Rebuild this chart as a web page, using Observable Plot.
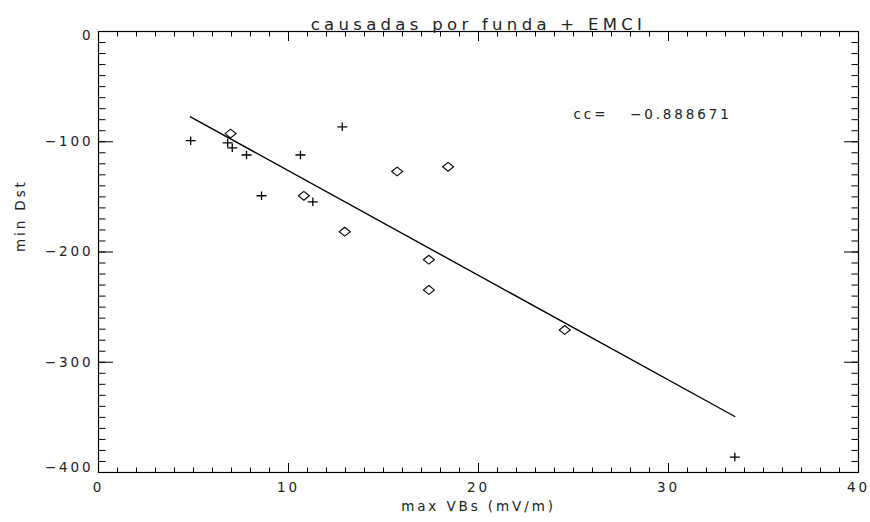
<!DOCTYPE html>
<html>
<head>
<meta charset="utf-8">
<script src="https://cdn.jsdelivr.net/npm/d3@7"></script>
<script src="https://cdn.jsdelivr.net/npm/@observablehq/plot@0.6"></script>
<style>
  html, body { margin: 0; padding: 0; background: white; }
  g[font-size="16.5"], g[font-size="16.5"] text { letter-spacing: 4.3px; }
</style>
</head>
<body>
<div id="chart"></div>
<script>
// ---- data ----
const titleText = "causadas por funda + EMCI";
const xLabelText = "max VBs (mV/m)";
const yLabelText = "min Dst";

// "+" markers
const plusX = [4.85, 6.8, 7.04, 7.79, 8.58, 10.63, 11.28, 12.83, 33.49];
const plusY = [-99, -101, -105.5, -112, -149, -112, -154.5, -86.5, -386];

// diamond markers
const diamX = [6.95, 10.81, 12.96, 15.72, 18.4, 17.39, 17.39, 24.54];
const diamY = [-92.6, -149, -181.6, -127, -122.7, -207, -234.4, -270.7];

// fitted line endpoints
const fitX = [4.84, 33.49];
const fitY = [-77.4, -349.2];

// correlation annotation
const ccLabel = ["cc=   −0.888671"];
const ccX = [25];
const ccY = [-75];

// axis ticks
const xMajor = [0, 10, 20, 30, 40];
const xMinor = d3.range(0, 41, 1);
const yMajor = [0, -100, -200, -300, -400];
const yMinor = d3.range(-400, 1, 10);

// ---- build tables ----
const plusData = plusX.map((x, i) => ({x, y: plusY[i]}));
const diamData = diamX.map((x, i) => ({x, y: diamY[i]}));
const fitData = fitX.map((x, i) => ({x, y: fitY[i]}));
const ccData = ccLabel.map((t, i) => ({t, x: ccX[i], y: ccY[i]}));

// custom thin-line symbols (IDL style)
const plusSym = {
  draw(ctx, size) {
    const r = Math.sqrt(size / Math.PI);
    ctx.moveTo(-r, 0); ctx.lineTo(r, 0);
    ctx.moveTo(0, -r * 0.85); ctx.lineTo(0, r * 0.85);
  }
};
const diamSym = {
  draw(ctx, size) {
    const r = Math.sqrt(size / Math.PI);
    ctx.moveTo(-r, 0); ctx.lineTo(0, -r * 0.8); ctx.lineTo(r, 0); ctx.lineTo(0, r * 0.8); ctx.closePath();
  }
};

const blank = () => "";
const ink = "#000";
const textInk = "#222";

const chart = Plot.plot({
  width: 870,
  height: 522,
  marginLeft: 98,
  marginRight: 12,
  marginTop: 31,
  marginBottom: 50,
  style: {fontFamily: "DejaVu Sans", fontSize: "13.5px", letterSpacing: "2.9px", background: "white", color: textInk},
  x: {domain: [0, 40]},
  y: {domain: [-400, 0]},
  marks: [
    Plot.frame({stroke: ink, strokeWidth: 1.2}),
    // minor ticks
    Plot.axisX(xMinor, {anchor: "bottom", tickSize: -4.5, tickFormat: blank, label: null, stroke: ink}),
    Plot.axisX(xMinor, {anchor: "top", tickSize: -4.5, tickFormat: blank, label: null, stroke: ink}),
    Plot.axisY(yMinor, {anchor: "left", tickSize: -7.5, tickFormat: blank, label: null, stroke: ink}),
    Plot.axisY(yMinor, {anchor: "right", tickSize: -7.5, tickFormat: blank, label: null, stroke: ink}),
    // major ticks
    Plot.axisX(xMajor, {anchor: "bottom", tickSize: -9, tickFormat: blank, label: null, stroke: ink}),
    Plot.axisX(xMajor, {anchor: "top", tickSize: -9, tickFormat: blank, label: null, stroke: ink}),
    Plot.axisY(yMajor, {anchor: "left", tickSize: -15, tickFormat: blank, label: null, stroke: ink}),
    Plot.axisY(yMajor, {anchor: "right", tickSize: -15, tickFormat: blank, label: null, stroke: ink}),
    // tick labels
    Plot.axisX(xMajor, {anchor: "bottom", tickSize: 0, tickPadding: 10, label: null}),
    Plot.axisY(yMajor.slice(1, 4), {anchor: "left", tickSize: 0, tickPadding: 5, label: null}),
    Plot.axisY([yMajor[0]], {anchor: "left", tickSize: 0, tickPadding: 5, label: null, dy: 4}),
    Plot.axisY([yMajor[4]], {anchor: "left", tickSize: 0, tickPadding: 5, label: null, dy: -5}),
    // fit line
    Plot.line(fitData, {x: "x", y: "y", stroke: ink, strokeWidth: 1.4}),
    // markers
    Plot.dot(plusData, {x: "x", y: "y", symbol: plusSym, r: 5, stroke: ink, fill: "none", strokeWidth: 1.3}),
    Plot.dot(diamData, {x: "x", y: "y", symbol: diamSym, r: 5.5, stroke: ink, fill: "none", strokeWidth: 1.1}),
    // annotation
    Plot.text(ccData, {x: "x", y: "y", text: "t", textAnchor: "start", fill: textInk}),
    // title and axis labels
    Plot.text([titleText], {frameAnchor: "top", dy: -13, fill: textInk, fontSize: 16.5}),
    Plot.text([xLabelText], {frameAnchor: "bottom", dy: 38, fill: textInk}),
    Plot.text([yLabelText], {frameAnchor: "left", dx: -78, rotate: -90, fill: textInk})
  ]
});
document.getElementById("chart").appendChild(chart);
</script>
</body>
</html>
